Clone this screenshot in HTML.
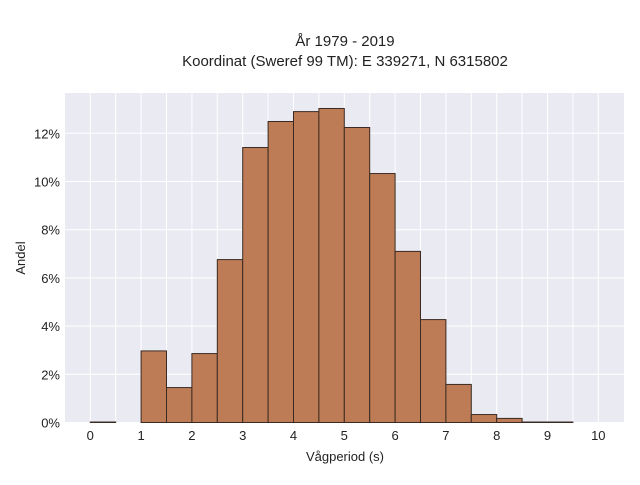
<!DOCTYPE html>
<html><head><meta charset="utf-8"><style>
body{margin:0;background:#fff;font-family:"Liberation Sans",sans-serif}
</style></head><body>
<svg width="640" height="480" xmlns="http://www.w3.org/2000/svg">
<text x="345" y="46" text-anchor="middle" font-size="15" fill="#222">År 1979 - 2019</text>
<text x="345" y="66" text-anchor="middle" font-size="15" fill="#222">Koordinat (Sweref 99 TM): E 339271, N 6315802</text>
<rect x="65" y="93" width="559" height="330" fill="#eaeaf2"/>
<g id="grid"></g><g id="bars"></g><g id="ticks"></g>
<text x="345" y="461" text-anchor="middle" font-size="13" fill="#222">Vågperiod (s)</text>
<text x="25" y="258" text-anchor="middle" font-size="13" fill="#222" transform="rotate(-90 25 258)">Andel</text>
</svg>
<script>
const binStarts=[0,0.5,1,1.5,2,2.5,3,3.5,4,4.5,5,5.5,6,6.5,7,7.5,8,8.5,9];
const shares=[0.02,0,2.97,1.45,2.86,6.76,11.41,12.49,12.9,13.03,12.24,10.33,7.1,4.27,1.58,0.33,0.17,0.02,0.02];
const xTicks=[0,1,2,3,4,5,6,7,8,9,10];
const yTicks=[0,2,4,6,8,10,12];
const binWidth=0.5;
const NS="http://www.w3.org/2000/svg";
const X=v=>90.3+v*50.8, Y=v=>422.5-v*24.1;
function mk(t,a,p){const e=document.createElementNS(NS,t);for(const k in a)e.setAttribute(k,a[k]);p.appendChild(e);return e;}
const g=document.getElementById('grid'),b=document.getElementById('bars'),tk=document.getElementById('ticks');
for(let v=0;v<=10;v+=0.5){const l=mk('line',{x1:X(v),x2:X(v),y1:93,y2:423,stroke:'#fff','stroke-width':1},g);

}
yTicks.forEach(v=>{const l=mk('line',{x1:65,x2:624,y1:Y(v),y2:Y(v),stroke:'#fff','stroke-width':1},g);


const t=mk('text',{x:60,y:Y(v)+5,'text-anchor':'end','font-size':13,fill:'#222'},tk);t.textContent=v+'%';

});
xTicks.forEach(v=>{const t=mk('text',{x:X(v),y:440,'text-anchor':'middle','font-size':13,fill:'#222'},tk);t.textContent=v;

});
binStarts.forEach((s,i)=>{const h=shares[i];if(h<=0)return;const r=mk('rect',{x:X(s),y:Y(h),width:X(s+binWidth)-X(s),height:Y(0)-Y(h),fill:'rgb(190,124,86)',stroke:'#3a2a22','stroke-width':1},b);

});
</script>
</body></html>
